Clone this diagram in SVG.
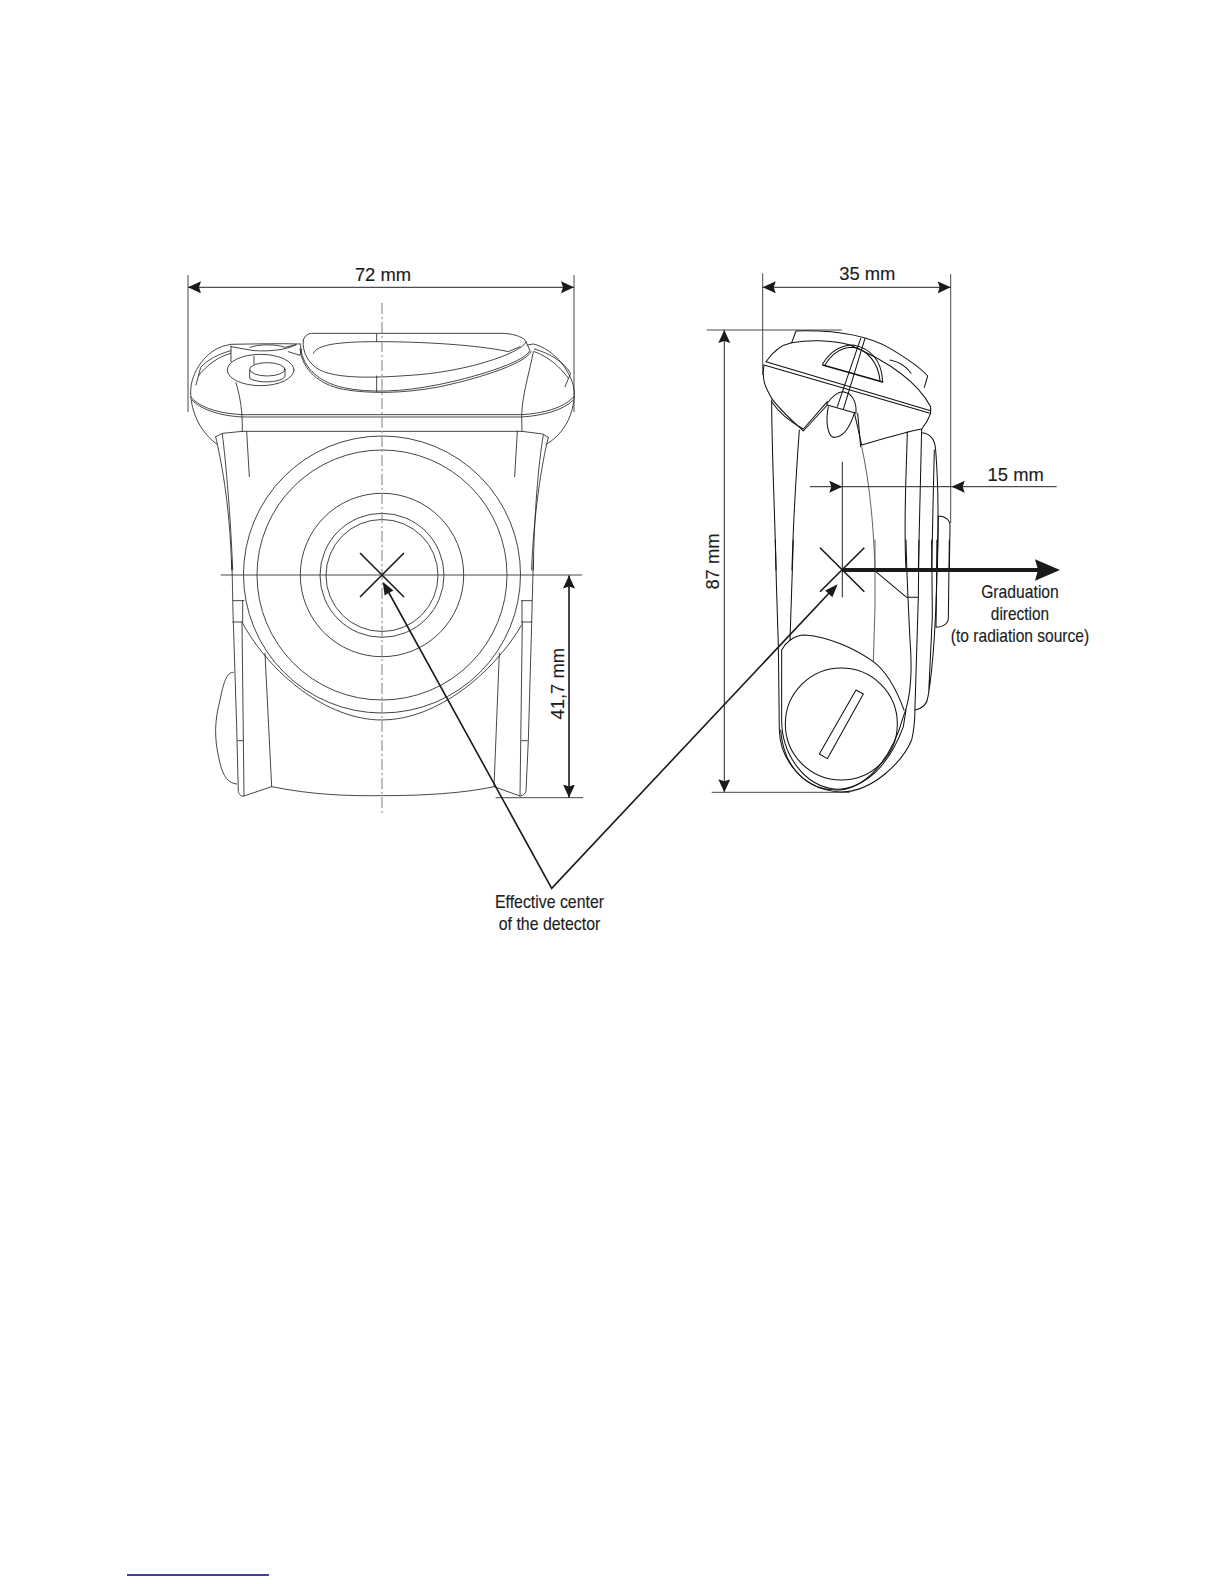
<svg xmlns="http://www.w3.org/2000/svg" width="1224" height="1584" viewBox="0 0 1224 1584">
<style>
.o{fill:none;stroke:#222;stroke-width:2.5;stroke-linejoin:round;stroke-linecap:round}
.h{stroke:#111;stroke-width:3.1}
.b{stroke-width:4.2;stroke:#111}
.g{stroke:#666}
.d{fill:none;stroke:#222;stroke-width:1}
.c{fill:none;stroke:#222;stroke-width:.85}
.e{fill:none;stroke:#333;stroke-width:.9}
.x{fill:none;stroke:#1a1a1a;stroke-width:1.6}
.l{fill:none;stroke:#1a1a1a;stroke-width:1.6}
text{font-family:"Liberation Sans",Arial,sans-serif;font-size:18.4px;fill:#1c1c1c;stroke:#1c1c1c;stroke-width:.15;text-anchor:middle}
</style>
<defs>
<marker id="a" markerUnits="userSpaceOnUse" markerWidth="16" markerHeight="14" refX="13" refY="6" orient="auto-start-reverse"><path d="M0,0 L13,6 L0,12 L2,6 Z" fill="#1a1a1a"/></marker>
</defs>
<rect width="1224" height="1584" fill="#fff"/>

<g id="front-view">
<g id="front-rings" class="c">
<circle cx="382" cy="575.5" r="56"/>
<circle cx="382" cy="575.3" r="62"/>
<circle cx="382" cy="575" r="81.7"/>
<circle cx="382" cy="575" r="125"/>
<circle cx="382" cy="574.5" r="138.5"/>
</g>
<g id="front-top" transform="translate(170 250) scale(.33333)" class="o">
<path d="M140,582 C95,550 62,490 62,425 C62,365 110,300 165,287 L183,283 C250,282 320,280 392,282"/>
<path d="M1072,285 L1090,282 C1150,295 1212,370 1213,430 C1212,490 1185,550 1130,582"/>
<path d="M62,440 C85,470 140,490 218,494 L1055,494 C1120,490 1180,475 1212,440"/>
<path d="M66,450 C90,475 140,497 218,501 L1055,501 C1120,497 1180,480 1208,452"/>
<path d="M78,405 L92,352 C112,330 145,312 182,302 M85,378 C110,345 145,320 182,310"/>
<path d="M1185,410 L1202,370 C1180,335 1140,310 1093,297 M1195,385 C1170,350 1135,320 1093,305"/>
<path d="M183,288 L183,335 M198,398 C210,440 218,480 217,544 M1090,305 C1080,360 1055,440 1055,500 L1056,544"/>
<path d="M137,560 L158,550 L217,544 L1056,544 L1118,552 L1135,562"/>
<path d="M137,560 C150,620 180,750 185,960 M157,552 C168,640 182,800 188,960"/>
<path d="M230,544 L238,680 M1042,544 L1034,680"/>
<path d="M1135,562 C1115,640 1090,800 1085,960 M1120,555 C1105,640 1092,800 1090,960"/>
<path d="M400,270 C405,255 415,250 430,250 L1000,250 C1040,252 1065,265 1068,275 C1060,305 900,365 720,376 C600,385 500,385 450,360 C420,345 395,310 400,270"/>
<path d="M392,285 C392,345 440,395 520,413 C600,430 700,425 800,405 C900,385 1060,340 1080,302 L1068,275"/>
<path d="M390,295 C395,360 450,405 520,418 C600,432 700,430 800,412 C900,392 1065,345 1083,305"/>
<path d="M430,310 C440,285 500,275 620,275 C800,275 950,290 1015,305 L1050,290"/>
<path d="M620,252 L620,275 M620,378 L620,425"/>
<ellipse cx="272" cy="360" rx="100" ry="47"/>
<ellipse cx="292" cy="358" rx="53" ry="20"/>
<path d="M239,360 L239,385 C260,400 330,400 345,380 L345,358 M252,318 L252,342"/>
<path d="M183,290 L240,300 C270,305 340,305 378,284 M240,292 C265,282 320,282 345,292 L378,284 M355,305 L390,316 L395,298"/>
</g>
<g id="front-bottom" transform="translate(170 560) scale(.33333)" class="o">
<path d="M185,0 C188,60 188,150 190,185 L200,500 L205,695 C208,705 215,710 222,708 L305,680 C430,705 530,708 640,707 C760,707 880,700 972,680 L1050,708 C1060,708 1065,700 1068,695 L1075,540 L1085,190 L1090,0"/>
<path d="M190,122 L222,122 M188,186 L217,186 M216,186 L222,708 M1055,122 L1085,122 M1055,186 L1085,186 M1057,186 L1050,708 M203,542 L218,542 M1055,542 L1072,542 M218,122 L218,186 M1056,122 L1056,186"/>
<path d="M218,190 C300,340 470,480 636,480 C800,480 970,340 1055,195"/>
<path d="M285,280 L305,680 M988,280 L972,680"/>
<path d="M190,337 C170,335 160,370 150,420 C135,480 130,530 150,610 C160,650 175,670 200,672"/>
</g>
<line id="front-centerline" x1="382" y1="303" x2="382" y2="813" stroke="#8a8a8a" stroke-width="1.1" stroke-dasharray="11 3 2 3"/>
<path id="front-cross" class="x" d="M360,553 L404,597 M404,553 L360,597"/>
</g>

<g id="side-view">
<g id="side-top" transform="translate(690 250) scale(.33333)" class="o h">
<path d="M305,278 L318,243 C420,240 520,250 600,295 C650,325 690,350 713,378 L703,412"/>
<path d="M305,278 C350,270 420,268 480,285 C620,345 690,410 722,470 L722,490 C715,510 705,525 695,537 C650,545 600,560 515,585 L493,488"/>
<path d="M305,278 C270,285 245,310 228,335 M222,345 C215,390 225,410 245,445 C270,480 310,515 340,543 L412,465"/>
<path d="M245,455 C265,485 300,515 340,537 L412,455"/>
<path d="M228,335 L722,482 M222,345 L720,490"/>
<path d="M398,342 C420,305 450,285 490,285 C540,295 575,330 578,395"/>
<path d="M405,345 C425,312 455,292 490,292 C530,300 565,335 570,392"/>
<path d="M398,345 L578,396" class="b"/>
<path d="M600,330 C625,335 650,350 663,370"/>
<path d="M525,265 L460,478 M512,265 L442,470"/>
<path d="M410,462 C425,440 440,425 460,425 C490,430 500,460 498,490 L412,465 Z"/>
<path d="M415,470 C405,520 415,565 435,562 C460,560 480,530 493,490"/>
<path d="M503,490 L512,590"/>
<path d="M515,590 C535,680 550,800 555,960" class="g"/>
<path d="M245,450 C245,600 255,800 258,960 M328,540 C320,650 310,800 306,960"/>
<path d="M652,545 C650,650 640,800 648,960 M695,537 C692,650 688,800 685,960"/>
<path d="M695,548 C725,550 735,570 737,600 C745,700 745,850 741,960 M733,600 C730,720 727,850 725,960"/>
<path d="M745,798 C765,798 782,810 780,830 L778,960 M745,798 L742,960"/>
</g>
<g id="side-bottom" transform="translate(690 540) scale(.33333)" class="o h">
<path d="M256,0 C258,100 262,240 265,315 L268,570 C270,660 340,750 450,756 C550,758 640,660 665,600 C672,570 675,540 675,500 L685,172 L687,0"/>
<path d="M310,0 L300,300"/>
<path d="M648,0 C650,100 655,200 660,300 C668,400 660,480 640,530 C610,640 540,740 450,750 C350,755 280,680 272,570"/>
<path d="M555,0 L555,200 L550,365" class="g"/>
<path d="M275,330 C285,310 310,285 345,285 C420,290 500,330 550,365 C590,395 620,450 642,510 M275,330 L275,540 C275,640 340,740 440,748 C530,745 600,670 640,560 L648,510"/>
<circle cx="454" cy="552" r="168"/>
<path d="M498,450 L520,462 L412,656 L388,642 Z"/>
<path d="M560,97 L650,172 L683,172"/>
<path d="M738,262 C760,262 775,250 775,235 L778,0 M738,262 L742,0"/>
<path d="M675,510 C700,505 712,490 714,470 C730,380 742,200 741,0 M725,0 L727,230 L716,460"/>
</g>
<path id="side-cross" class="x" d="M820,547.7 L864.3,591.7 M864.3,547.7 L820,591.7"/>
<line id="side-axis" class="d" x1="842.3" y1="461.7" x2="842.3" y2="597.3"/>
</g>

<g id="connectors">
<path class="e" d="M188,275 V412 M574,275 V412 M220.7,575 H582 M495.7,797.7 H583 M762.7,273.3 V375 M950.7,274 V523 M706.7,330 H841.7 M711.7,792.3 H850"/>
<line class="d" x1="188" y1="287.3" x2="574" y2="287.3" marker-start="url(#a)" marker-end="url(#a)"/>
<line class="l" x1="569" y1="575.5" x2="569" y2="797.5" marker-start="url(#a)" marker-end="url(#a)"/>
<line class="d" x1="762.7" y1="287.3" x2="950.7" y2="287.3" marker-start="url(#a)" marker-end="url(#a)"/>
<line class="d" x1="724.3" y1="330" x2="724.3" y2="792.3" marker-start="url(#a)" marker-end="url(#a)"/>
<line class="d" x1="810" y1="486.7" x2="842.3" y2="486.7" marker-end="url(#a)"/>
<line class="d" x1="1056.7" y1="486.7" x2="951.7" y2="486.7" marker-end="url(#a)"/>
<line class="d" x1="842.3" y1="486.7" x2="951.7" y2="486.7"/>
<line x1="842.3" y1="570" x2="1040" y2="570" stroke="#1a1a1a" stroke-width="4"/>
<path fill="#1a1a1a" d="M1035,559.3 L1060,570 L1035,580.7 L1038,570 Z"/>
<path class="l" d="M386,587.5 L551.7,888.3 L832,590"/>
<path fill="#1a1a1a" d="M382.7,581.7 L393.4,590.6 L384.6,595.4 Z"/>
<path fill="#1a1a1a" d="M837.7,584.3 L832.4,597.2 L825.2,590.4 Z"/>
</g>

<g id="labels">
<text x="383" y="281">72 mm</text>
<text x="867.3" y="280">35 mm</text>
<text x="1015.7" y="481.3">15 mm</text>
<text transform="translate(564.3 683.7) rotate(-90)">41,7 mm</text>
<text transform="translate(719.3 561.5) rotate(-90)">87 mm</text>
<text x="1020" y="598.3" textLength="77.7" lengthAdjust="spacingAndGlyphs">Graduation</text>
<text x="1020" y="620" textLength="58.3" lengthAdjust="spacingAndGlyphs">direction</text>
<text x="1020" y="641.7" textLength="138.3" lengthAdjust="spacingAndGlyphs">(to radiation source)</text>
<text x="549.5" y="908.3" textLength="109" lengthAdjust="spacingAndGlyphs">Effective center</text>
<text x="549.5" y="930" textLength="101.5" lengthAdjust="spacingAndGlyphs">of the detector</text>
</g>
<line id="page-rule" x1="127" y1="1575" x2="269" y2="1575" stroke="#00008b" stroke-width="1.5"/>
</svg>
